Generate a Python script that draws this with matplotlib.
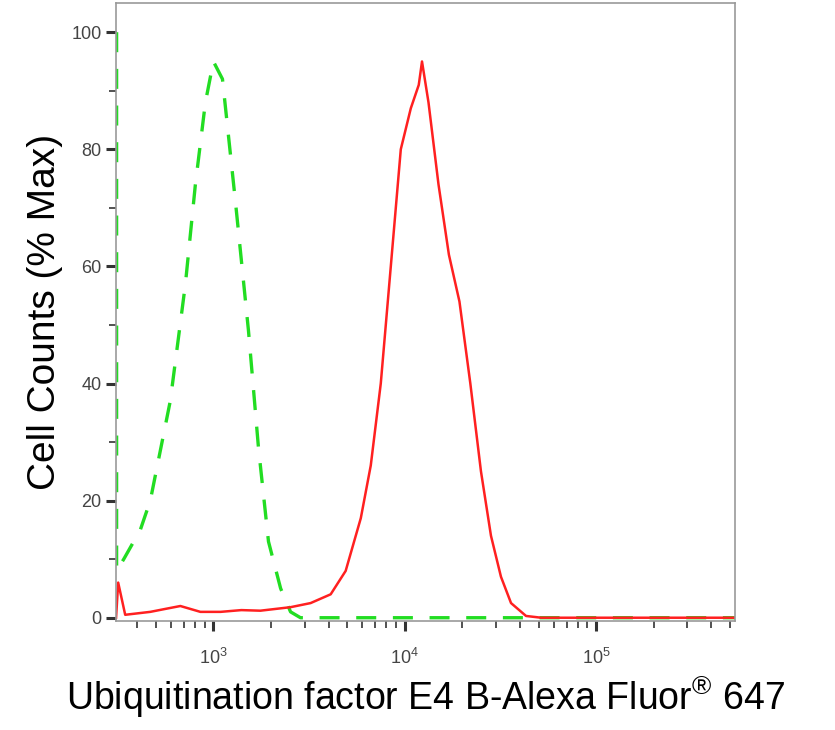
import matplotlib
matplotlib.use("Agg")
import matplotlib.pyplot as plt
from matplotlib.ticker import LogLocator, NullFormatter, FixedLocator

plt.rcParams['font.family'] = ['Liberation Sans', 'DejaVu Sans']
plt.rcParams['mathtext.fontset'] = 'custom'
plt.rcParams['mathtext.rm'] = 'Liberation Sans'

red_x = [310, 318, 346, 468, 560, 672, 855, 1090, 1400, 1760, 2530, 3220, 4100, 4910, 5890, 6640,
         7490, 8450, 9530, 10750, 11830, 12300, 13300, 15000, 17000, 19300, 22000, 25000,
         28200, 31800, 35900, 43000, 51600, 541000]
red_y = [0, 6, 0.5, 1, 1.5, 2, 1, 1, 1.3, 1.2, 1.8, 2.5, 4, 8, 17, 26,
         40, 60, 80, 87, 91, 95, 88, 74, 62, 54, 40, 25,
         14, 7, 2.5, 0.3, 0, 0]

green_x = [312, 312, 340, 415, 468, 595, 714, 805, 908, 1000, 1115, 1304, 1525, 1720,
           1940, 2245, 2530, 2850, 541000]
green_y = [100, 8, 10, 15, 20, 37, 57, 74, 88, 95, 92, 71, 49, 29,
           13, 5, 1, 0, 0]

fig = plt.figure(figsize=(8.35, 7.3), dpi=100)
ax = fig.add_axes([0.139, 0.149, 0.741, 0.847])
ax.plot(green_x, green_y, color='#22dd22', lw=2.4, dashes=(6, 5))
ax.plot(red_x, red_y, color='#ff2020', lw=1.8)
ax.set_xscale('log')
ax.set_xlim(310, 530000)
ax.set_ylim(-0.6, 105)

ax.xaxis.set_major_locator(LogLocator(base=10, numticks=10))
ax.xaxis.set_minor_locator(LogLocator(base=10, subs=range(2, 10), numticks=20))
ax.xaxis.set_minor_formatter(NullFormatter())
ax.yaxis.set_major_locator(FixedLocator([0, 20, 40, 60, 80, 100]))
ax.yaxis.set_minor_locator(FixedLocator([10, 30, 50, 70, 90]))
ax.tick_params(axis='both', which='major', length=7, width=2.2, color='#333333',
               labelsize=13, labelcolor='#444444')
ax.tick_params(axis='both', which='minor', length=5, width=1.2, color='#333333')
ax.tick_params(axis='x', which='major', pad=12)
for s in ax.spines.values():
    s.set_color('#999999')
    s.set_linewidth(1.2)
ax.set_xlabel('Ubiquitination factor E4 B-Alexa Fluor$^{\\mathrm{®}}$ 647', fontsize=27, labelpad=4)
ax.set_ylabel('Cell Counts (% Max)', fontsize=28, labelpad=6)
fig.savefig('out.png', dpi=100)
